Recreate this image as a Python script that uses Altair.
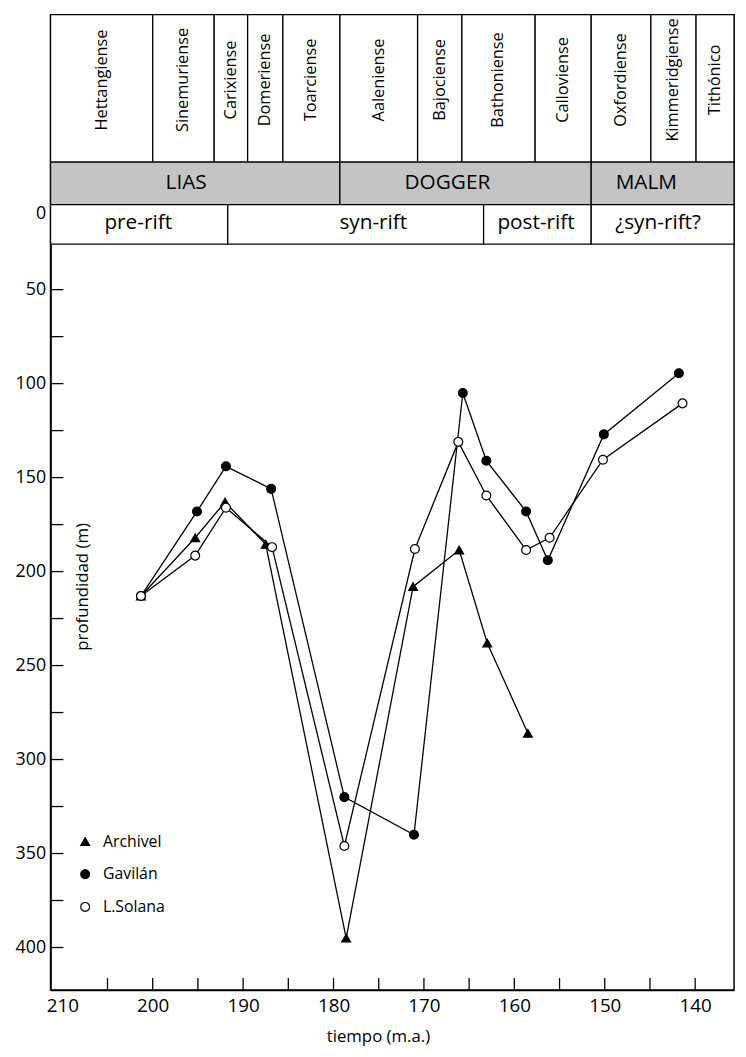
import altair as alt
import pandas as pd

F = "Open Sans"

# ---- data series (age in Ma, depth in m) ----
archivel_t = [201.3, 195.3, 192.0, 187.5, 178.6, 171.2, 166.1, 163.0, 158.5]
archivel_d = [213, 182, 163, 185.5, 395, 208, 188.5, 238, 286]
gavilan_t = [201.3, 195.1, 191.9, 186.9, 178.8, 171.1, 165.7, 163.1, 158.7, 156.3, 150.1, 141.8]
gavilan_d = [213, 168, 144, 156, 320, 340, 105, 141, 168, 194, 127, 94.5]
solana_t = [201.3, 195.3, 191.9, 186.8, 178.8, 171.0, 166.2, 163.1, 158.7, 156.1, 150.2, 141.4]
solana_d = [213, 191.5, 166, 187, 346, 188, 131, 159.5, 188.5, 182, 140.5, 110.5]
series_names = ["Archivel", "Gavilán", "L.Solana"]

# ---- stratigraphic header ----
stage_names = ["Hettangiense", "Sinemuriense", "Carixiense", "Domeriense", "Toarciense",
               "Aaleniense", "Bajociense", "Bathoniense", "Calloviense", "Oxfordiense",
               "Kimmeridgiense", "Tithónico"]
stage_bounds = [211.3, 200.0, 193.2, 189.5, 185.6, 179.3, 170.7, 165.8, 157.7, 151.5, 144.9, 139.9, 135.7]
epoch_names = ["LIAS", "DOGGER", "MALM"]
epoch_bounds = [211.3, 179.3, 151.5, 135.7]
epoch_label_t = [196.3, 167.4, 145.4]
tect_names = ["pre-rift", "syn-rift", "post-rift", "¿syn-rift?"]
tect_bounds = [211.3, 191.7, 163.4, 151.5, 135.7]
tect_label_t = [201.6, 175.6, 157.6, 144.1]

# ---- axis ticks ----
x_labels = [210, 200, 190, 180, 170, 160, 150, 140]
x_ticks = [205, 200, 195, 190, 185, 180, 175, 170, 165, 160, 155, 150, 145, 140]
y_labels = [0, 50, 100, 150, 200, 250, 300, 350, 400]
y_ticks = [50, 75, 100, 125, 150, 175, 200, 225, 250, 275, 300, 325, 350, 375, 400]

x_domain = [135.7, 211.3]
y_domain = [-96.3, 422.6]

# layout (pixels)
W, H = 691, 986
row_y = [0, 149, 192, 232]

pts = pd.DataFrame(
    [dict(serie=series_names[0], t=t, d=d) for t, d in zip(archivel_t, archivel_d)]
    + [dict(serie=series_names[1], t=t, d=d) for t, d in zip(gavilan_t, gavilan_d)]
    + [dict(serie=series_names[2], t=t, d=d) for t, d in zip(solana_t, solana_d)]
)
stages = pd.DataFrame({"name": stage_names, "t": stage_bounds[:-1], "t2": stage_bounds[1:]})
stages["tm"] = (stages["t"] + stages["t2"]) / 2
epochs = pd.DataFrame({"name": epoch_names, "t": epoch_bounds[:-1], "t2": epoch_bounds[1:], "tl": epoch_label_t})
tects = pd.DataFrame({"name": tect_names, "t": tect_bounds[:-1], "t2": tect_bounds[1:], "tl": tect_label_t})
xt = pd.DataFrame({"t": x_ticks})
yt = pd.DataFrame({"d": y_ticks})

xs = alt.Scale(domain=x_domain, reverse=True, nice=False, zero=False)
ys = alt.Scale(domain=y_domain, reverse=True, nice=False, zero=False)

x_axis = alt.Axis(values=x_labels, ticks=False, grid=False, domainColor="black", domainWidth=1.5,
                  labelFont=F, labelFontSize=19, labelColor="black", labelPadding=7,
                  labelFlush=False, labelOverlap=False, format="d",
                  title="tiempo (m.a.)", titleFont=F, titleFontSize=17, titleFontWeight="normal",
                  titleColor="black", titleX=331, titleY=47, titleAlign="center", titleBaseline="middle")
y_axis = alt.Axis(values=y_labels, ticks=False, grid=False, domainColor="black", domainWidth=1.5,
                  labelFont=F, labelFontSize=18, labelColor="black", labelPadding=5,
                  labelOverlap=False, labelFlush=False, format="d",
                  labelOffset={"condition": {"test": "datum.value === 0", "value": 18}, "value": 0},
                  title="profundidad (m)", titleFont=F, titleFontSize=17, titleFontWeight="normal",
                  titleColor="black", titleX=32, titleY=578, titleAngle=270,
                  titleAlign="center", titleBaseline="middle")

X = lambda f="t": alt.X(f"{f}:Q", scale=xs, axis=x_axis)
Y = lambda f="d": alt.Y(f"{f}:Q", scale=ys, axis=y_axis)

leg = alt.Legend(title=None, orient="none", legendX=27, legendY=828, labelFont=F, labelFontSize=16,
                 labelColor="black", symbolSize=80, symbolStrokeColor="black", symbolStrokeWidth=1.2,
                 rowPadding=17, labelOffset=10, padding=0)

lines = alt.Chart(pts).mark_line(color="black", strokeWidth=1.3).encode(
    x=X(), y=Y(), detail="serie:N")
points = alt.Chart(pts).mark_point(filled=True, size=80, strokeWidth=1.2, opacity=1).encode(
    x=X(), y=Y(),
    shape=alt.Shape("serie:N", scale=alt.Scale(domain=series_names, range=["triangle-up", "circle", "circle"]), legend=leg),
    fill=alt.Fill("serie:N", scale=alt.Scale(domain=series_names, range=["black", "black", "white"]), legend=leg),
    stroke=alt.Stroke("serie:N", scale=alt.Scale(domain=series_names, range=["black", "black", "black"]), legend=leg),
)

ytick_rules = alt.Chart(yt).mark_rule(color="black", strokeWidth=1.3).encode(
    y=Y(), x=alt.value(0), x2=alt.value(13))
xtick_rules = alt.Chart(xt).mark_rule(color="black", strokeWidth=1.3).encode(
    x=X(), y=alt.value(H), y2=alt.value(H - 12))

stage_rect = alt.Chart(stages).mark_rect(fill="white", stroke="black", strokeWidth=1.3).encode(
    x=X(), x2="t2:Q", y=alt.value(row_y[0]), y2=alt.value(row_y[1]))
epoch_rect = alt.Chart(epochs).mark_rect(fill="#c4c4c4", stroke="black", strokeWidth=1.3).encode(
    x=X(), x2="t2:Q", y=alt.value(row_y[1]), y2=alt.value(row_y[2]))
tect_rect = alt.Chart(tects).mark_rect(fill="white", stroke="black", strokeWidth=1.3).encode(
    x=X(), x2="t2:Q", y=alt.value(row_y[2]), y2=alt.value(row_y[3]))

stage_text = alt.Chart(stages).mark_text(angle=270, font=F, fontSize=16.5, color="black",
                                         align="center", baseline="middle").encode(
    x=X("tm"), y=alt.value(66), text="name:N")
epoch_text = alt.Chart(epochs).mark_text(font=F, fontSize=21, color="black",
                                         align="center", baseline="middle").encode(
    x=X("tl"), y=alt.value(170), text="name:N")
tect_text = alt.Chart(tects).mark_text(font=F, fontSize=21, color="black",
                                       align="center", baseline="middle").encode(
    x=X("tl"), y=alt.value(211), text="name:N")

chart = alt.layer(
    stage_rect, epoch_rect, tect_rect, stage_text, epoch_text, tect_text,
    ytick_rules, xtick_rules, lines, points
).properties(
    width=W, height=H,
    autosize=alt.AutoSizeParams(type="none"),
    padding={"left": 43, "top": 1, "right": 4, "bottom": 62},
).configure_view(stroke="black", strokeWidth=1.5)

chart.save("out.html", embed_options={"renderer": "svg", "actions": False})
